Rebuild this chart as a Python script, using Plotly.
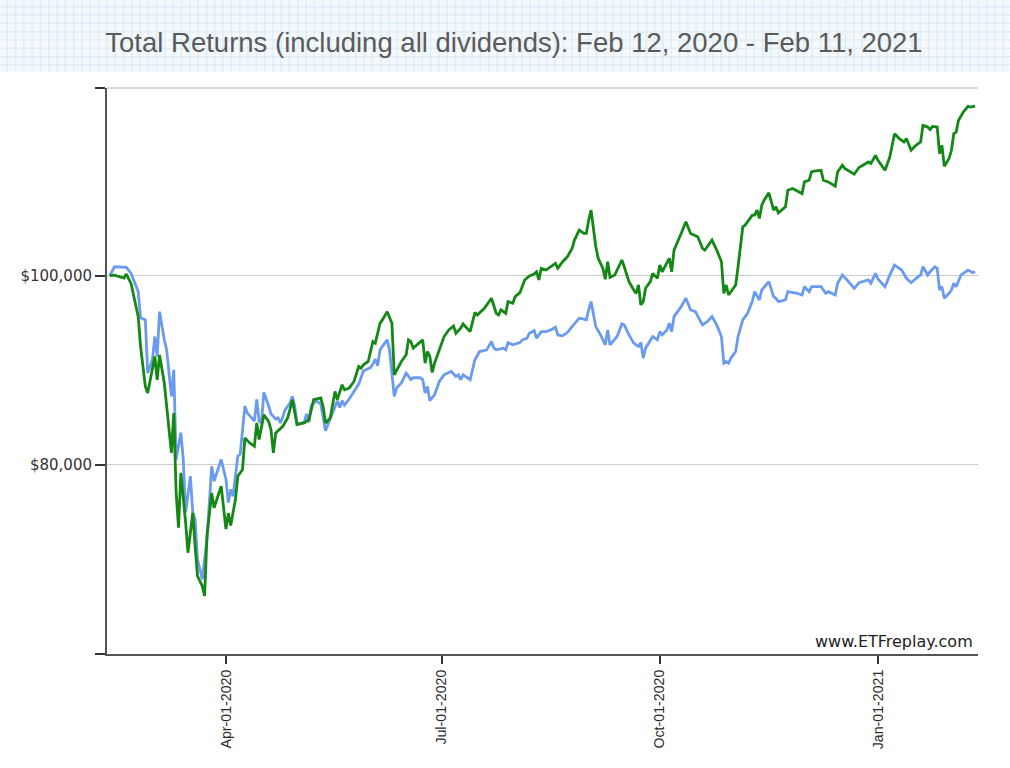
import plotly.graph_objects as go

# growth of $100,000
green_dates = [
    "2020-02-12", "2020-02-14", "2020-02-18", "2020-02-19", "2020-02-21", "2020-02-24", "2020-02-25", "2020-02-27",
    "2020-02-28", "2020-03-01", "2020-03-02", "2020-03-03", "2020-03-04", "2020-03-06", "2020-03-08", "2020-03-09",
    "2020-03-10", "2020-03-11", "2020-03-12", "2020-03-13", "2020-03-15", "2020-03-16", "2020-03-17", "2020-03-18",
    "2020-03-19", "2020-03-20", "2020-03-22", "2020-03-23", "2020-03-24", "2020-03-26", "2020-03-27", "2020-03-30",
    "2020-04-01", "2020-04-02", "2020-04-03", "2020-04-05", "2020-04-06", "2020-04-08", "2020-04-09", "2020-04-11",
    "2020-04-13", "2020-04-14", "2020-04-15", "2020-04-16", "2020-04-17", "2020-04-19", "2020-04-20", "2020-04-21",
    "2020-04-22", "2020-04-25", "2020-04-27", "2020-04-28", "2020-04-29", "2020-05-01", "2020-05-04", "2020-05-06",
    "2020-05-08", "2020-05-11", "2020-05-12", "2020-05-13", "2020-05-15", "2020-05-17", "2020-05-18", "2020-05-20",
    "2020-05-21", "2020-05-23", "2020-05-25", "2020-05-27", "2020-05-28", "2020-05-29", "2020-05-31", "2020-06-02",
    "2020-06-03", "2020-06-05", "2020-06-06", "2020-06-08", "2020-06-10", "2020-06-11", "2020-06-13", "2020-06-14",
    "2020-06-16", "2020-06-17", "2020-06-18", "2020-06-19", "2020-06-23", "2020-06-24", "2020-06-25", "2020-06-26",
    "2020-06-27", "2020-06-28", "2020-06-30", "2020-07-02", "2020-07-04", "2020-07-06", "2020-07-07", "2020-07-09",
    "2020-07-10", "2020-07-11", "2020-07-13", "2020-07-15", "2020-07-16", "2020-07-19", "2020-07-21", "2020-07-22",
    "2020-07-24", "2020-07-25", "2020-07-26", "2020-07-28", "2020-07-29", "2020-07-31", "2020-08-01", "2020-08-03",
    "2020-08-05", "2020-08-07", "2020-08-09", "2020-08-10", "2020-08-11", "2020-08-12", "2020-08-14", "2020-08-16",
    "2020-08-18", "2020-08-19", "2020-08-21", "2020-08-23", "2020-08-25", "2020-08-26", "2020-08-28", "2020-08-30",
    "2020-08-31", "2020-09-01", "2020-09-02", "2020-09-04", "2020-09-05", "2020-09-07", "2020-09-08", "2020-09-09",
    "2020-09-10", "2020-09-12", "2020-09-15", "2020-09-16", "2020-09-18", "2020-09-20", "2020-09-21", "2020-09-22",
    "2020-09-23", "2020-09-24", "2020-09-25", "2020-09-27", "2020-09-28", "2020-09-30", "2020-10-01", "2020-10-02",
    "2020-10-05", "2020-10-06", "2020-10-07", "2020-10-10", "2020-10-12", "2020-10-14", "2020-10-17", "2020-10-19",
    "2020-10-20", "2020-10-21", "2020-10-23", "2020-10-25", "2020-10-27", "2020-10-28", "2020-10-29", "2020-10-30",
    "2020-11-02", "2020-11-03", "2020-11-05", "2020-11-06", "2020-11-09", "2020-11-10", "2020-11-11", "2020-11-12",
    "2020-11-13", "2020-11-14", "2020-11-16", "2020-11-18", "2020-11-19", "2020-11-20", "2020-11-23", "2020-11-24",
    "2020-11-26", "2020-11-30", "2020-12-01", "2020-12-03", "2020-12-04", "2020-12-05", "2020-12-08", "2020-12-09",
    "2020-12-11", "2020-12-14", "2020-12-15", "2020-12-17", "2020-12-18", "2020-12-22", "2020-12-24", "2020-12-28",
    "2020-12-29", "2020-12-31", "2021-01-01", "2021-01-04", "2021-01-06", "2021-01-08", "2021-01-10", "2021-01-12",
    "2021-01-13", "2021-01-15", "2021-01-17", "2021-01-19", "2021-01-20", "2021-01-22", "2021-01-23", "2021-01-24",
    "2021-01-26", "2021-01-27", "2021-01-28", "2021-01-29", "2021-01-31", "2021-02-01", "2021-02-02", "2021-02-03",
    "2021-02-04", "2021-02-06", "2021-02-08", "2021-02-09", "2021-02-11",
]
green_values = [
    100000, 100070, 99760, 100180, 99160, 95680, 92510, 88290,
    87590, 90050, 91460, 89000, 91630, 88650, 83400, 81260,
    85480, 77040, 73350, 79150, 73880, 70710, 72820, 74930,
    71410, 68250, 67190, 66140, 72470, 77040, 75460, 77740,
    73200, 74900, 73600, 76300, 78790, 79500, 82850, 82320,
    81960, 84430, 82670, 84070, 85300, 84600, 83720, 81260,
    83370, 84070, 84960, 85830, 86890, 84250, 84430, 84780,
    86890, 87070, 86180, 84430, 84960, 87760, 86890, 88470,
    87940, 88120, 88820, 90400, 90230, 90580, 90930, 93040,
    92870, 94980, 95330, 96200, 94980, 89520, 90400, 90930,
    91630, 93220, 93040, 92340, 93220, 90760, 91980, 91460,
    89770, 90760, 92160, 93570, 94270, 94690, 93920, 94450,
    94900, 94620, 94090, 96100, 95850, 96560, 97260, 97620,
    96030, 95850, 96380, 96030, 97260, 97090, 97790, 98210,
    99550, 99970, 100180, 100420, 99550, 100780, 100600, 100950,
    101310, 100780, 101480, 102000, 102890, 103770, 104820, 104470,
    104470, 105880, 106930, 103060, 101840, 100780, 99620, 101480,
    99830, 100070, 101660, 100950, 99370, 98490, 98140, 99020,
    96910, 97260, 98670, 99370, 100250, 99730, 101130, 100420,
    101840, 100420, 102710, 104470, 105700, 104470, 104120, 102890,
    102710, 103060, 103770, 102710, 101480, 98140, 99020, 97960,
    99020, 100950, 105170, 105350, 106400, 106400, 106930, 106060,
    107460, 107990, 108760, 106930, 107280, 106650, 107280, 109040,
    109220, 108690, 109920, 110100, 110970, 111050, 111150, 110100,
    109920, 109460, 110970, 111680, 111330, 110730, 111440, 112030,
    111860, 112730, 112210, 111150, 112550, 115020, 114500, 114140,
    114500, 113260, 113790, 114140, 115900, 115720, 115450, 115790,
    115720, 112910, 113790, 111570, 112390, 113260, 115020, 115190,
    116430, 117300, 117900, 117830, 117940,
]

blue_dates = [
    "2020-02-12", "2020-02-14", "2020-02-19", "2020-02-21", "2020-02-24", "2020-02-25", "2020-02-27", "2020-02-28",
    "2020-03-01", "2020-03-02", "2020-03-03", "2020-03-04", "2020-03-06", "2020-03-07", "2020-03-09", "2020-03-10",
    "2020-03-11", "2020-03-13", "2020-03-14", "2020-03-15", "2020-03-17", "2020-03-18", "2020-03-19", "2020-03-20",
    "2020-03-22", "2020-03-24", "2020-03-26", "2020-03-27", "2020-03-30", "2020-04-01", "2020-04-02", "2020-04-03",
    "2020-04-04", "2020-04-06", "2020-04-07", "2020-04-09", "2020-04-10", "2020-04-13", "2020-04-14", "2020-04-15",
    "2020-04-16", "2020-04-17", "2020-04-19", "2020-04-20", "2020-04-22", "2020-04-23", "2020-04-24", "2020-04-25",
    "2020-04-26", "2020-04-28", "2020-04-29", "2020-04-30", "2020-05-01", "2020-05-04", "2020-05-05", "2020-05-06",
    "2020-05-07", "2020-05-09", "2020-05-11", "2020-05-13", "2020-05-15", "2020-05-16", "2020-05-18", "2020-05-19",
    "2020-05-20", "2020-05-21", "2020-05-23", "2020-05-27", "2020-05-29", "2020-05-30", "2020-06-01", "2020-06-02",
    "2020-06-03", "2020-06-04", "2020-06-05", "2020-06-07", "2020-06-08", "2020-06-09", "2020-06-11", "2020-06-12",
    "2020-06-14", "2020-06-16", "2020-06-18", "2020-06-19", "2020-06-22", "2020-06-23", "2020-06-24", "2020-06-25",
    "2020-06-26", "2020-06-28", "2020-06-30", "2020-07-02", "2020-07-05", "2020-07-07", "2020-07-08", "2020-07-09",
    "2020-07-10", "2020-07-13", "2020-07-15", "2020-07-17", "2020-07-20", "2020-07-22", "2020-07-23", "2020-07-24",
    "2020-07-27", "2020-07-28", "2020-07-29", "2020-07-31", "2020-08-03", "2020-08-04", "2020-08-06", "2020-08-07",
    "2020-08-09", "2020-08-10", "2020-08-12", "2020-08-14", "2020-08-16", "2020-08-18", "2020-08-19", "2020-08-21",
    "2020-08-23", "2020-08-25", "2020-08-28", "2020-08-30", "2020-08-31", "2020-09-01", "2020-09-02", "2020-09-04",
    "2020-09-06", "2020-09-08", "2020-09-09", "2020-09-10", "2020-09-13", "2020-09-15", "2020-09-16", "2020-09-18",
    "2020-09-20", "2020-09-22", "2020-09-23", "2020-09-24", "2020-09-25", "2020-09-28", "2020-09-30", "2020-10-01",
    "2020-10-02", "2020-10-04", "2020-10-05", "2020-10-06", "2020-10-07", "2020-10-10", "2020-10-12", "2020-10-14",
    "2020-10-16", "2020-10-19", "2020-10-21", "2020-10-23", "2020-10-25", "2020-10-27", "2020-10-28", "2020-10-29",
    "2020-10-30", "2020-10-31", "2020-11-02", "2020-11-03", "2020-11-05", "2020-11-07", "2020-11-09", "2020-11-10",
    "2020-11-12", "2020-11-13", "2020-11-16", "2020-11-18", "2020-11-19", "2020-11-20", "2020-11-23", "2020-11-24",
    "2020-11-28", "2020-11-30", "2020-12-01", "2020-12-03", "2020-12-04", "2020-12-08", "2020-12-10", "2020-12-11",
    "2020-12-14", "2020-12-15", "2020-12-17", "2020-12-19", "2020-12-22", "2020-12-24", "2020-12-28", "2020-12-29",
    "2020-12-31", "2021-01-01", "2021-01-04", "2021-01-06", "2021-01-08", "2021-01-10", "2021-01-11", "2021-01-13",
    "2021-01-15", "2021-01-18", "2021-01-19", "2021-01-20", "2021-01-22", "2021-01-23", "2021-01-25", "2021-01-26",
    "2021-01-27", "2021-01-28", "2021-01-29", "2021-01-31", "2021-02-01", "2021-02-02", "2021-02-03", "2021-02-05",
    "2021-02-07", "2021-02-08", "2021-02-10", "2021-02-11",
]
blue_values = [
    100000, 100950, 100890, 100250, 98310, 95540, 95330, 89700,
    91110, 93570, 91460, 96200, 93220, 92160, 87240, 90050,
    80560, 83410, 80560, 74970, 78790, 74970, 74230, 70010,
    67900, 72120, 79850, 78270, 80560, 78480, 76020, 77390,
    76690, 80910, 81120, 86210, 85500, 84620, 86910, 84620,
    84430, 87660, 86250, 85380, 84850, 84960, 84430, 85130,
    85830, 86530, 87240, 86250, 84320, 84500, 85380, 84500,
    86250, 86780, 86430, 83610, 84850, 85550, 86780, 86070,
    86780, 86320, 86960, 88540, 89940, 90050, 90290, 90650,
    91180, 90480, 92160, 92870, 93220, 92160, 87240, 88120,
    88650, 89700, 89030, 89210, 89210, 89030, 87590, 88290,
    86780, 87410, 88820, 89520, 89870, 89350, 89520, 89000,
    89520, 89000, 91110, 91980, 92160, 93040, 92340, 92160,
    92340, 92160, 92930, 92690, 92930, 93220, 93400, 93920,
    94200, 93400, 94090, 94090, 94270, 94560, 93740, 93640,
    93990, 94620, 95510, 95400, 95330, 96380, 97260, 94620,
    93740, 92690, 94270, 92690, 93570, 94900, 94800, 93740,
    92870, 92510, 92930, 91290, 92340, 93570, 93220, 94090,
    93740, 94270, 94980, 94090, 95680, 96730, 97620, 96380,
    96200, 94800, 95150, 95680, 94800, 93570, 90760, 90930,
    90760, 91290, 91980, 93570, 95330, 96030, 97260, 98310,
    97440, 98490, 99370, 97790, 97620, 97260, 97440, 98310,
    98140, 97960, 98840, 98310, 98840, 98840, 98140, 98310,
    97960, 99200, 100070, 99550, 98670, 99260, 99550, 99200,
    100250, 99650, 98840, 100070, 101130, 100780, 100600, 99730,
    99260, 99900, 100070, 100950, 100070, 100420, 100950, 100780,
    98490, 98840, 97620, 98140, 98490, 99200, 98840, 100070,
    100420, 100600, 100320, 100420,
]

x_tick_dates = ["2020-04-01", "2020-07-01", "2020-10-01", "2021-01-01"]
x_tick_labels = ["Apr-01-2020", "Jul-01-2020", "Oct-01-2020", "Jan-01-2021"]
y_tick_values = [60000, 80000, 100000, 119850]
y_tick_labels = ["", "$80,000", "$100,000", ""]

title_text = "Total Returns (including all dividends): Feb 12, 2020 - Feb 11, 2021"

W, H = 1010, 768
L, R, T, B = 107, 32, 88, 114


def px_x(px):
    return (px - L) / (W - L - R)


def px_y(py):
    return (H - B - py) / (H - T - B)


fig = go.Figure()
fig.add_trace(go.Scatter(x=blue_dates, y=blue_values, mode="lines",
                         line=dict(color="#6b9bee", width=2.8), hoverinfo="skip"))
fig.add_trace(go.Scatter(x=green_dates, y=green_values, mode="lines",
                         line=dict(color="#148814", width=2.8), hoverinfo="skip"))

# graph-paper band behind the title
shapes = [dict(type="rect", xref="paper", yref="paper", x0=px_x(0), x1=px_x(W),
               y0=px_y(71.5), y1=px_y(0), fillcolor="#f4f9fd", line_width=0, layer="below")]
gx = 7.3
while gx < W:
    shapes.append(dict(type="line", xref="paper", yref="paper", x0=px_x(gx), x1=px_x(gx),
                       y0=px_y(71.5), y1=px_y(0), line=dict(color="#e0ecf6", width=1.4), layer="below"))
    gx += 8.3
gy = 6.7
while gy < 71:
    shapes.append(dict(type="line", xref="paper", yref="paper", x0=px_x(0), x1=px_x(W),
                       y0=px_y(gy), y1=px_y(gy), line=dict(color="#e0ecf6", width=1.4), layer="below"))
    gy += 8.33
# light rule along the top of the plot area
shapes.append(dict(type="line", xref="paper", yref="paper", x0=0, x1=1, y0=1, y1=1,
                   line=dict(color="#cccccc", width=1.5), layer="below"))

fig.update_layout(
    width=W, height=H,
    margin=dict(l=L, r=R, t=T, b=B),
    paper_bgcolor="white", plot_bgcolor="white",
    showlegend=False,
    shapes=shapes,
    title=dict(text=title_text, x=514 / W, xanchor="center", xref="container",
               y=1 - 42 / H, yanchor="middle", yref="container",
               font=dict(family="Liberation Sans, Arial", size=27.5, color="#5b5b5b")),
    xaxis=dict(type="date", range=["2020-02-10 20:00", "2021-02-12 05:00"],
               tickvals=x_tick_dates, ticktext=x_tick_labels, tickangle=-90,
               ticks="outside", ticklen=8, tickwidth=1.5, tickcolor="#333",
               showgrid=False, zeroline=False,
               showline=True, linecolor="#555", linewidth=2,
               tickfont=dict(family="Liberation Sans, Arial", size=14.2, color="#2a2a2a")),
    yaxis=dict(range=[60000, 119850], tickvals=y_tick_values, ticktext=y_tick_labels,
               ticks="outside", ticklen=10, tickwidth=1.5, tickcolor="#333",
               showgrid=True, gridcolor="#cccccc", gridwidth=1, zeroline=False,
               showline=True, linecolor="#555", linewidth=2,
               tickfont=dict(family="DejaVu Sans, Verdana", size=15, color="#333")),
    annotations=[dict(text="www.ETFreplay.com", xref="paper", yref="paper",
                      x=1, xanchor="right", xshift=-3, y=px_y(641), yanchor="middle",
                      showarrow=False,
                      font=dict(family="DejaVu Sans, Verdana", size=16, color="#222"))],
)

fig.write_html("out.html", config={"displayModeBar": False},
               post_script="document.body.style.margin = '0';")
